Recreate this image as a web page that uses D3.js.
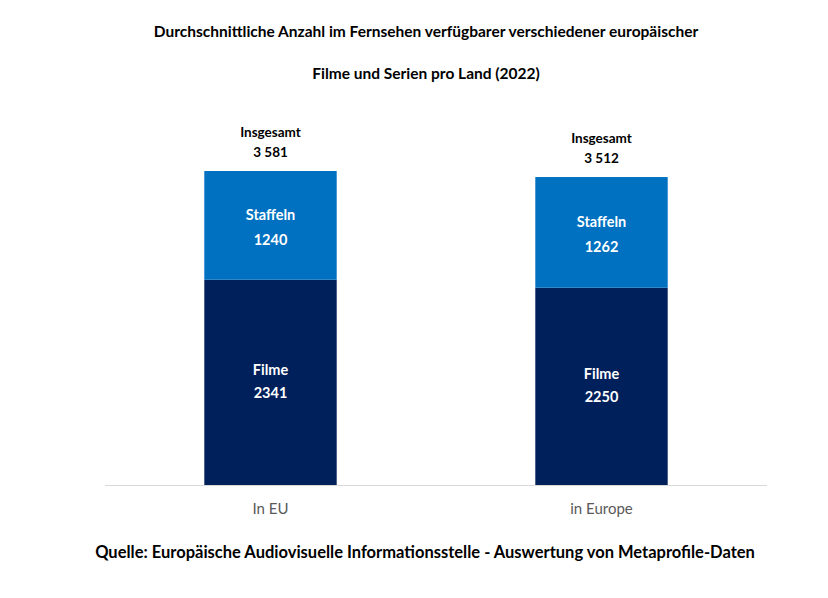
<!DOCTYPE html>
<html><head><meta charset="utf-8">
<script src="https://cdn.jsdelivr.net/npm/d3@7"></script>
<style>body{margin:0;background:#fff}text{font-family:Lato,"Open Sans",sans-serif}</style>
</head><body><svg width="828" height="598"></svg>
<script>
const categories = ["In EU", "in Europe"];
const filme = [2341, 2250];
const staffeln = [1240, 1262];
const totals = ["3 581", "3 512"];

const svg = d3.select("svg");
const base = 485;
const x = d3.scaleBand().domain(categories).range([105, 767]).paddingInner(0.6).paddingOuter(0.3);
const y = d3.scaleLinear().domain([0, 3581]).range([base, 171]);

svg.append("text").attr("x", 426).attr("y", 37).attr("text-anchor", "middle")
  .attr("font-weight", "bold").attr("font-size", 15.5)
  .text("Durchschnittliche Anzahl im Fernsehen verfügbarer verschiedener europäischer");
svg.append("text").attr("x", 426).attr("y", 79).attr("text-anchor", "middle")
  .attr("font-weight", "bold").attr("font-size", 15.5)
  .text("Filme und Serien pro Land (2022)");

svg.append("line").attr("x1", 105).attr("x2", 767).attr("y1", base + 0.5).attr("y2", base + 0.5)
  .attr("stroke", "#d9d9d9");

const g = svg.selectAll("g.bar").data(categories).join("g").attr("class", "bar");
g.append("rect").attr("x", d => x(d)).attr("width", x.bandwidth())
  .attr("y", (d, i) => y(filme[i])).attr("height", (d, i) => base - y(filme[i])).attr("fill", "#00205b");
g.append("rect").attr("x", d => x(d)).attr("width", x.bandwidth())
  .attr("y", (d, i) => y(filme[i] + staffeln[i])).attr("height", (d, i) => y(filme[i]) - y(filme[i] + staffeln[i]))
  .attr("fill", "#0070c0");

function lbl(sel, dy, txt, color, size) {
  sel.append("text").attr("x", d => x(d) + x.bandwidth() / 2).attr("y", dy)
    .attr("text-anchor", "middle").attr("font-weight", "bold").attr("font-size", size || 14.5)
    .attr("fill", color).text(txt);
}
lbl(g, (d, i) => y(filme[i] + staffeln[i]) - 34, "Insgesamt", "#000", 13.5);
lbl(g, (d, i) => y(filme[i] + staffeln[i]) - 14, (d, i) => totals[i], "#000", 13.5);
lbl(g, (d, i) => (y(filme[i]) + y(filme[i] + staffeln[i])) / 2 - 5, "Staffeln", "#fff");
lbl(g, (d, i) => (y(filme[i]) + y(filme[i] + staffeln[i])) / 2 + 20, (d, i) => staffeln[i], "#fff");
lbl(g, (d, i) => (y(filme[i]) + base) / 2 - 7, "Filme", "#fff");
lbl(g, (d, i) => (y(filme[i]) + base) / 2 + 16, (d, i) => filme[i], "#fff");

g.append("text").attr("x", d => x(d) + x.bandwidth() / 2).attr("y", 514).attr("text-anchor", "middle")
  .attr("font-size", 15).attr("fill", "#595959").text(d => d);

svg.append("text").attr("x", 425).attr("y", 558).attr("text-anchor", "middle")
  .attr("font-weight", "bold").attr("font-size", 16.5)
  .text("Quelle: Europäische Audiovisuelle Informationsstelle - Auswertung von Metaprofile-Daten");
</script></body></html>
